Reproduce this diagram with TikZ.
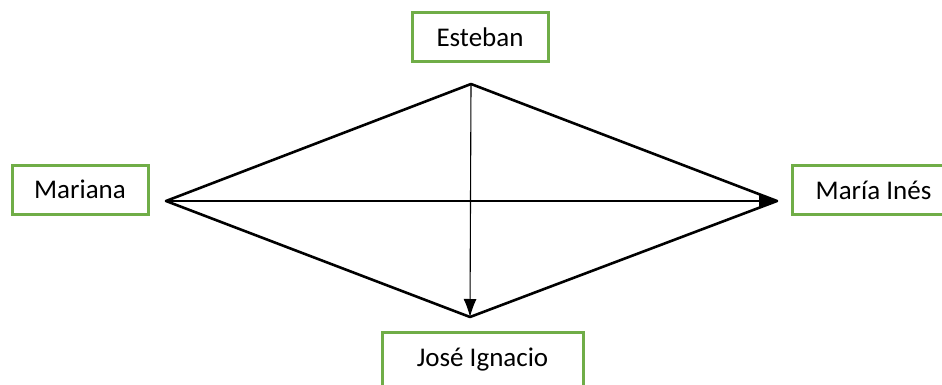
\documentclass[tikz,border=0pt]{standalone}
\usepackage{fontspec}
\setmainfont{Carlito}
\usepackage{tikz}
\usetikzlibrary{arrows.meta}
\definecolor{boxgreen}{RGB}{112,173,71}

\begin{document}
\begin{tikzpicture}[x=1pt, y=-1pt,
every node/.style = {draw=boxgreen, line width=3pt, minimum height=49pt,
  inner sep=0pt, font=\fontsize{27}{32}\selectfont},
  edge/.style = {line width=2.6pt, line join=round},
  flow/.style = {line width=1.1pt, -{Latex[length=18pt,width=13pt]}}
]
\useasboundingbox (0,0) rectangle (942,385);
\node[minimum width=136pt] (esteban) at (480,37.5) {Esteban};
\node[minimum width=136pt] (mariana) at (80,189.5) {Mariana};
\node[minimum width=163pt] (mariaines) at (873.5,190) {María Inés};
\node[minimum width=201pt, minimum height=56pt] (joseignacio) at (482.5,360) {José Ignacio};
\coordinate (top) at (471,84);
\coordinate (left) at (166,201);
\coordinate (right) at (777,201);
\coordinate (bottom) at (470,317);
\draw[edge] (top) -- (right) -- (bottom) -- (left) -- cycle;
\draw[flow] (top) -- (bottom);
\draw[flow] (left) -- (right);
\end{tikzpicture}
\end{document}
